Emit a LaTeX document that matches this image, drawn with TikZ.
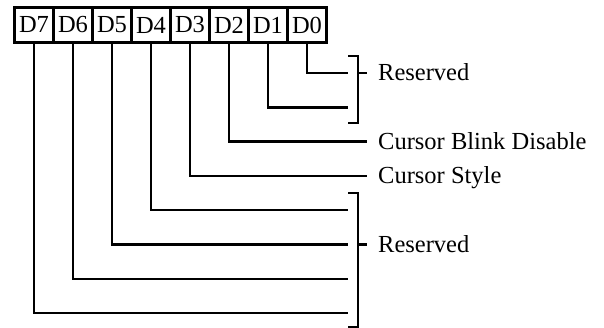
\documentclass[tikz,border=0pt]{standalone}
\usepackage{fontspec}
\setmainfont{Liberation Serif}
\begin{document}
\begin{tikzpicture}[x=1pt,y=-1pt,
  bitbox/.style={draw,line width=2.5pt,minimum width=39pt,minimum height=35pt,inner sep=0pt,
    font=\fontsize{24.5}{28}\selectfont},
  lead/.style={line width=2.5pt},
  lbl/.style={anchor=base west,inner sep=0pt,font=\fontsize{24.5}{28}\selectfont}]
\useasboundingbox (0,0) rectangle (604,328);
% bit boxes
\foreach \i in {7,...,0}{
  \node[bitbox] (d\i) at ({34+39*(7-\i)},25) {D\i};
}
% lead ends
\coordinate (e0) at (348,73);
\coordinate (e1) at (348,107.3);
\coordinate (e2) at (367,141.6);
\coordinate (e3) at (367,175.9);
\coordinate (e4) at (348,210.2);
\coordinate (e5) at (348,244.5);
\coordinate (e6) at (348,278.8);
\coordinate (e7) at (348,313.1);
\foreach \i in {0,...,7}{
  \draw[lead] (d\i.south) |- (e\i);
}
% brackets
\coordinate (ua) at (348,56);
\coordinate (ub) at (358,56);
\coordinate (uc) at (358,123);
\coordinate (ud) at (348,123);
\coordinate (um) at (358,73);
\coordinate (ut) at (367,73);
\draw[lead] (ua) -- (ub) -- (uc) -- (ud);
\draw[lead] (um) -- (ut);
\coordinate (la) at (348,193);
\coordinate (lb) at (358,193);
\coordinate (lc) at (358,327);
\coordinate (ld) at (348,327);
\coordinate (lm) at (358,244.5);
\coordinate (lt) at (367,244.5);
\draw[lead] (la) -- (lb) -- (lc) -- (ld);
\draw[lead] (lm) -- (lt);
% labels
\node[lbl] (t0) at (378,81) {Reserved};
\node[lbl] (t2) at (378,149.6) {Cursor Blink Disable};
\node[lbl] (t3) at (378,183.9) {Cursor Style};
\node[lbl] (t5) at (378,252.5) {Reserved};
\end{tikzpicture}
\end{document}
